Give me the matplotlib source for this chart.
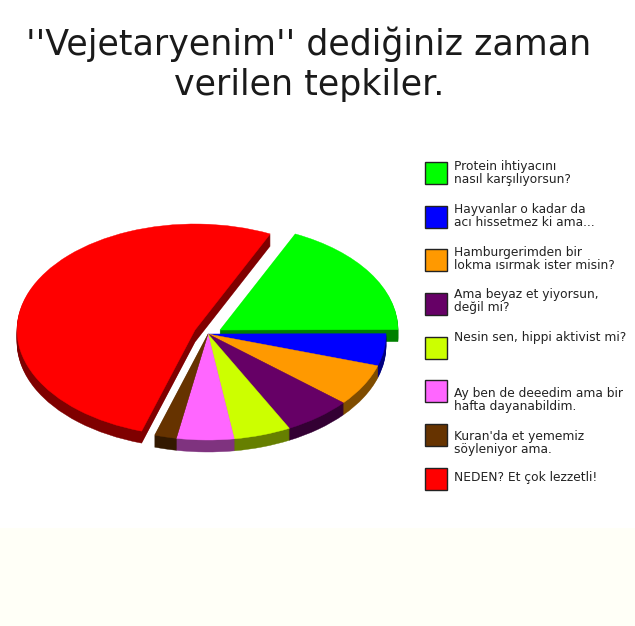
import matplotlib
matplotlib.use("Agg")
import matplotlib.pyplot as plt
from matplotlib.patches import Wedge, Rectangle

W, H = 635, 626
title_lines = ["''Vejetaryenim'' dediğiniz zaman", "verilen tepkiler."]
labels = ["Protein ihtiyacını\nnasıl karşılıyorsun?",
          "Hayvanlar o kadar da\nacı hissetmez ki ama...",
          "Hamburgerimden bir\nlokma ısırmak ister misin?",
          "Ama beyaz et yiyorsun,\ndeğil mi?",
          "Nesin sen, hippi aktivist mi?",
          "Ay ben de deeedim ama bir\nhafta dayanabildim.",
          "Kuran'da et yememiz\nsöyleniyor ama.",
          "NEDEN? Et çok lezzetli!"]
values = [18.0, 4.9, 6.4, 6.2, 5.2, 5.2, 2.0, 52.1]
colors = ["#00FF00", "#0000FF", "#FF9900", "#660066", "#CCFF00", "#FF66FF", "#663300", "#FF0000"]
sides = ["#008000", "#00007F", "#7F4C00", "#330033", "#667F00", "#7F337F", "#331900", "#7F0000"]

# layout (pixels)
cx, cy, rx, ry = 208, 334, 178, 106
depth = 12
offsets = {0: (12, -4), 7: (-13, -4)}
box_top = [162, 206, 249, 293, 337, 380, 424, 468]
text_mid = [173, 216, 259, 301, 337, 400, 443, 478]

fig = plt.figure(figsize=(W / 100, H / 100), dpi=100, facecolor="white")
fig.add_artist(Rectangle((0, 0), 1, (H - 528) / H, transform=fig.transFigure,
                         facecolor="#FFFFF7", edgecolor="none"))
ax = fig.add_axes([(cx - rx) / W, 1 - (cy + ry) / H, 2 * rx / W, 2 * ry / H])
ax.set_xlim(-1, 1)
ax.set_ylim(-1, 1)
ax.axis("off")

total = sum(values)
angles = []
start = 65.0
for v in values:
    sweep = 360 * v / total
    angles.append((start - sweep, start))
    start -= sweep

for layer in range(depth, 0, -1):
    for i, (a, b) in enumerate(angles):
        ox, oy = offsets.get(i, (0, 0))
        c = (ox / rx, -oy / ry - layer / ry)
        ax.add_patch(Wedge(c, 1, a, b, facecolor=sides[i], edgecolor=sides[i],
                           lw=0.3, clip_on=False))
for i, (a, b) in enumerate(angles):
    ox, oy = offsets.get(i, (0, 0))
    ax.add_patch(Wedge((ox / rx, -oy / ry), 1, a, b, facecolor=colors[i],
                       edgecolor=colors[i], lw=0.3, clip_on=False))

fig.text(309 / W, 1 - 44 / H, title_lines[0], ha="center", va="center", fontsize=25.1,
         color="#1a1a1a", family="DejaVu Sans")
fig.text(309 / W, 1 - 85 / H, title_lines[1], ha="center", va="center", fontsize=25.1,
         color="#1a1a1a", family="DejaVu Sans")

for i, lab in enumerate(labels):
    fig.add_artist(Rectangle((425 / W, 1 - (box_top[i] + 22) / H), 22 / W, 22 / H,
                             transform=fig.transFigure, facecolor=colors[i],
                             edgecolor="#222222", lw=1.0))
    fig.text(454 / W, 1 - text_mid[i] / H, lab, ha="left", va="center", fontsize=8.8,
             color="#222222", family="DejaVu Sans", linespacing=1.0)

fig.savefig("out.png", dpi=100)
